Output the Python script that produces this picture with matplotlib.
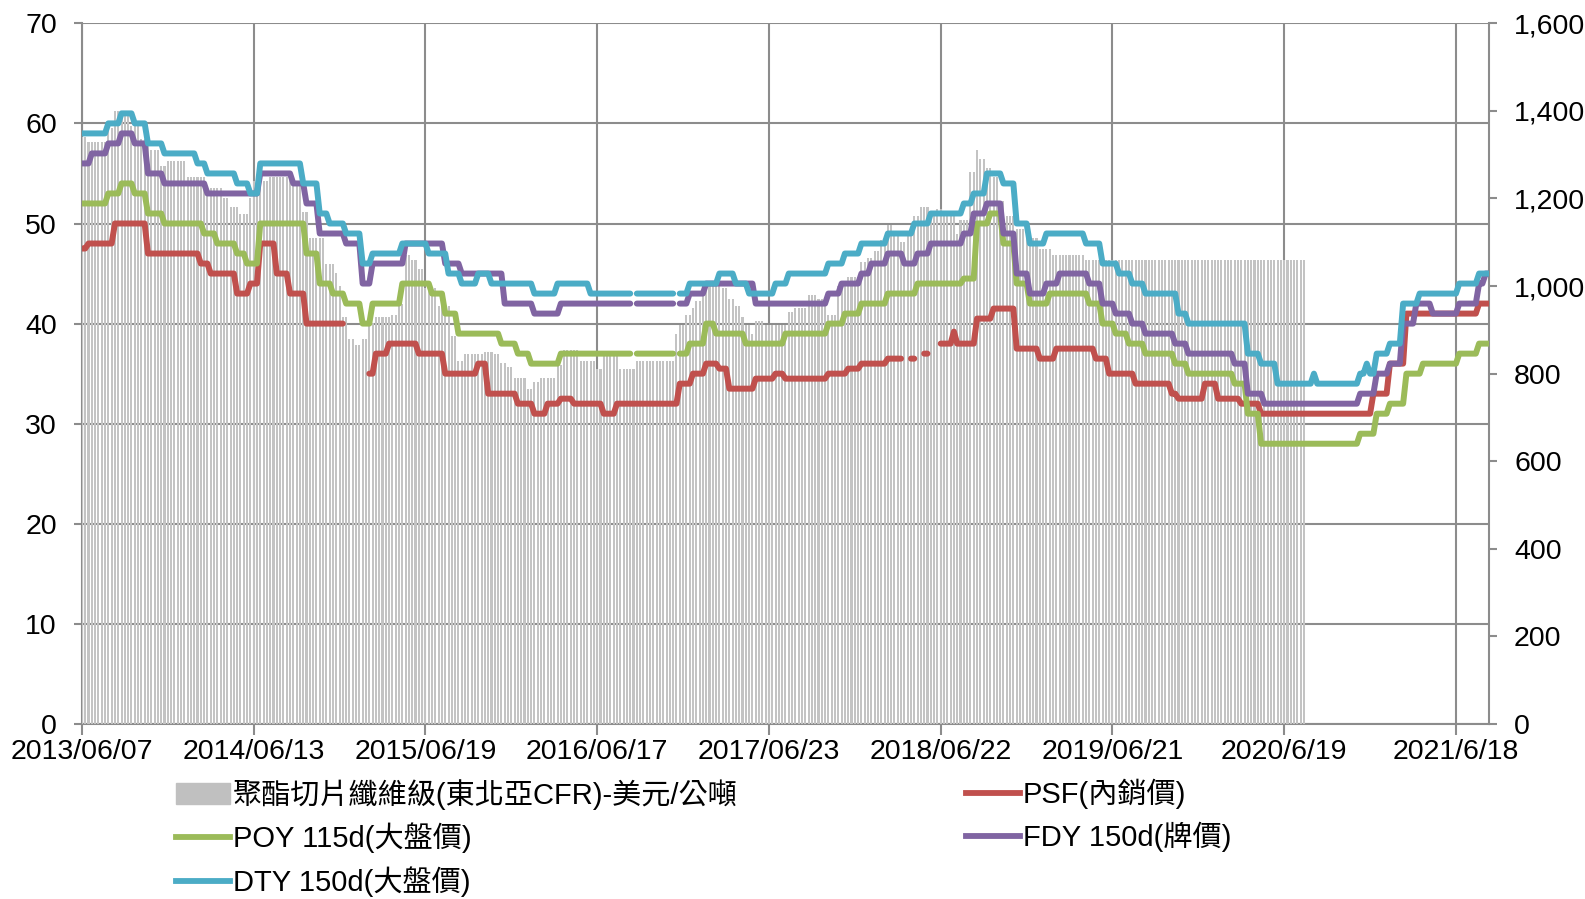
import matplotlib
matplotlib.use('Agg')
import matplotlib.pyplot as plt
import numpy as np
from matplotlib.lines import Line2D
from matplotlib.patches import Patch

plt.rcParams['font.family'] = ['Liberation Sans', 'Noto Sans CJK TC']
plt.rcParams['font.size'] = 20.5

N_WEEKS = 427
N_BARS = 371

tick_idx = [0, 52, 104, 156, 208, 260, 312, 364, 416]
tick_labels = ['2013/06/07', '2014/06/13', '2015/06/19', '2016/06/17', '2017/06/23',
               '2018/06/22', '2019/06/21', '2020/6/19', '2021/6/18']

# weekly series stored as (first week, value) change points
chip_start = [0, 2, 8, 10, 15, 18, 21, 24, 26, 32, 38, 43, 45, 48, 51, 52, 57, 64, 67, 69,
              74, 77, 78, 79, 81, 83, 85, 87, 89, 94, 96, 98, 100, 102, 104, 108, 112, 114,
              116, 122, 125, 127, 129, 131, 135, 137, 139, 144, 146, 151, 156, 158, 163,
              168, 180, 181, 183, 185, 186, 188, 194, 196, 198, 200, 201, 203, 204, 207,
              214, 216, 220, 223, 226, 229, 232, 236, 238, 240, 242, 244, 246, 248, 250,
              252, 254, 257, 259, 261, 265, 266, 269, 271, 272, 274, 276, 278, 280, 283,
              286, 290, 294, 304]
chip_val = [1340, 1330, 1360, 1400, 1365, 1335, 1310, 1275, 1285, 1250, 1225, 1200, 1180,
            1165, 1200, 1240, 1250, 1235, 1170, 1110, 1050, 1030, 1000, 930, 880, 865, 880,
            915, 930, 935, 960, 1070, 1060, 1040, 995, 955, 885, 830, 845, 850, 845, 825,
            815, 790, 765, 780, 790, 820, 855, 830, 810, 840, 810, 830, 890, 910, 935, 950,
            965, 1000, 995, 970, 955, 930, 910, 890, 920, 910, 940, 950, 980, 970, 935,
            1000, 1020, 1055, 1065, 1080, 1105, 1140, 1115, 1100, 1125, 1160, 1180, 1170,
            1175, 1160, 1120, 1150, 1260, 1310, 1290, 1270, 1250, 1195, 1160, 1130, 1110,
            1085, 1070, 1060]

psf_start = [0, 2, 10, 20, 36, 39, 47, 51, 54, 59, 63, 68, 80, 87, 89, 93, 102, 110, 120,
             123, 132, 137, 141, 145, 149, 158, 162, 181, 185, 189, 193, 196, 204, 210, 213,
             226, 232, 236, 244, 249, 251, 253, 255, 257, 260, 264, 265, 271, 276, 283, 290,
             295, 307, 311, 319, 330, 332, 340, 344, 351, 357, 391, 396, 401, 423]
psf_val = [47.5, 48, 50, 47, 46, 45, 43, 44, 48, 45, 43, 40, np.nan, 35, 37, 38, 37, 35, 36,
           33, 32, 31, 32, 32.5, 32, 31, 32, 34, 35, 36, 35.5, 33.5, 34.5, 35, 34.5, 35, 35.5,
           36, 36.5, np.nan, 36.5, np.nan, 37, np.nan, 38, 39.2, 38, 40.5, 41.5, 37.5, 36.5,
           37.5, 36.5, 35, 34, 33, 32.5, 34, 32.5, 32, 31, 33, 36, 41, 42]

poy_start = [0, 8, 12, 16, 20, 25, 37, 41, 47, 50, 54, 68, 72, 76, 80, 85, 88, 97, 106, 110,
             114, 127, 132, 136, 145, 167, 168, 180, 181, 184, 189, 192, 201, 213, 226, 231,
             236, 244, 253, 267, 271, 275, 279, 283, 287, 293, 305, 309, 313, 317, 322, 331,
             335, 349, 353, 357, 387, 392, 396, 401, 406, 417, 423]
poy_val = [52, 53, 54, 53, 51, 50, 49, 48, 47, 46, 50, 47, 44, 43, 42, 40, 42, 44, 43, 41,
           39, 38, 37, 36, 37, np.nan, 37, np.nan, 37, 38, 40, 39, 38, 39, 40, 41, 42, 43, 44,
           44.5, 50, 51, 48, 44, 42, 43, 42, 40, 39, 38, 37, 36, 35, 34, 31, 28, 29, 31, 32,
           35, 36, 37, 38]

fdy_start = [0, 3, 8, 12, 16, 20, 25, 38, 54, 64, 68, 72, 80, 85, 88, 98, 110, 115, 128, 137,
             145, 167, 168, 180, 181, 184, 189, 204, 226, 230, 236, 239, 244, 249, 253, 257,
             267, 270, 274, 279, 283, 287, 292, 296, 305, 309, 313, 318, 322, 331, 335, 349,
             353, 358, 387, 392, 396, 400, 404, 409, 417, 423, 425]
fdy_val = [56, 57, 58, 59, 58, 55, 54, 53, 55, 54, 52, 49, 48, 44, 46, 48, 46, 45, 42, 41, 42,
           np.nan, 42, np.nan, 42, 43, 44, 42, 43, 44, 45, 46, 47, 46, 47, 48, 49, 51, 52, 49,
           45, 43, 44, 45, 44, 42, 41, 40, 39, 38, 37, 36, 33, 32, 33, 35, 36, 40, 42, 41, 42,
           44, 45]

dty_start = [0, 8, 12, 16, 20, 25, 35, 38, 47, 51, 54, 67, 72, 75, 80, 85, 88, 97, 105, 111,
             115, 120, 124, 137, 144, 154, 167, 168, 180, 181, 184, 193, 198, 202, 210, 214,
             226, 231, 236, 244, 252, 257, 267, 270, 274, 279, 283, 287, 292, 304, 309, 314,
             318, 322, 332, 335, 353, 357, 362, 373, 374, 387, 389, 390, 392, 396, 400, 405,
             417, 423]
dty_val = [59, 60, 61, 60, 58, 57, 56, 55, 54, 53, 56, 54, 51, 50, 49, 46, 47, 48, 47, 45, 44,
           45, 44, 43, 44, 43, np.nan, 43, np.nan, 43, 44, 45, 44, 43, 44, 45, 46, 47, 48, 49,
           50, 51, 52, 53, 55, 54, 50, 48, 49, 48, 46, 45, 44, 43, 41, 40, 37, 36, 34, 35, 34,
           35, 36, 35, 37, 38, 42, 43, 44, 45]


def expand(starts, vals, n):
    out = np.full(n, np.nan)
    for k in range(len(starts)):
        end = starts[k + 1] if k + 1 < len(starts) else n
        out[starts[k]:end] = vals[k]
    return out


def main():
    weeks = np.arange(N_WEEKS)
    chip = expand(chip_start, chip_val, N_BARS)
    psf = expand(psf_start, psf_val, N_WEEKS)
    poy = expand(poy_start, poy_val, N_WEEKS)
    fdy = expand(fdy_start, fdy_val, N_WEEKS)
    dty = expand(dty_start, dty_val, N_WEEKS)

    fig = plt.figure(figsize=(15.85, 8.99), dpi=100)
    rect = [81.9 / 1585, (899 - 724) / 899, (1489 - 81.9) / 1585, (724 - 23.3) / 899]
    ax = fig.add_axes(rect)
    grid_c = '#8c8c8c'

    # left axis + grid
    ax.set_xlim(0, N_WEEKS - 1)
    ax.set_ylim(0, 70)
    ax.set_yticks(np.arange(0, 71, 10))
    ax.set_xticks(tick_idx)
    ax.set_xticklabels(tick_labels)
    ax.grid(True, color=grid_c, lw=1.5)
    for s in ['top', 'right']:
        ax.spines[s].set_visible(False)
    for s in ['left', 'bottom']:
        ax.spines[s].set_color(grid_c)
        ax.spines[s].set_linewidth(1.5)
    ax.tick_params(axis='y', length=6, width=1.5, color=grid_c, pad=12)
    ax.tick_params(axis='x', length=8, width=1.5, color=grid_c, pad=3)

    # bars on right axis
    axb = ax.twinx()
    axb.bar(np.arange(N_BARS), chip, width=0.62, color='#c3c3c3', linewidth=0)
    axb.set_ylim(0, 1600)
    axb.set_yticks(np.arange(0, 1601, 200))
    axb.yaxis.set_major_formatter(lambda v, p: f'{v:,.0f}')
    axb.tick_params(axis='y', length=6, width=1.5, color=grid_c, pad=12)
    for s in ['top', 'left', 'bottom']:
        axb.spines[s].set_visible(False)
    axb.spines['right'].set_color(grid_c)
    axb.spines['right'].set_linewidth(1.5)

    # lines on top
    axl = ax.twinx()
    axl.set_ylim(0, 70)
    axl.axis('off')
    kw = dict(lw=4.3, solid_capstyle='round', solid_joinstyle='round')
    axl.plot(weeks, psf, color='#c0504d', **kw)
    axl.plot(weeks, poy, color='#9bbb59', **kw)
    axl.plot(weeks, fdy, color='#8064a2', **kw)
    axl.plot(weeks, dty, color='#4bacc6', **kw)
    axl.set_xlim(0, N_WEEKS - 1)

    lkw = dict(frameon=False, fontsize=21, handlelength=1.85, handletextpad=0.1,
               labelspacing=0.44, borderpad=0, borderaxespad=0, loc='upper left')
    h1 = [Patch(color='#c0c0c0'),
          Line2D([], [], color='#9bbb59', lw=4.2),
          Line2D([], [], color='#4bacc6', lw=4.2)]
    l1 = ['聚酯切片纖維級(東北亞CFR)-美元/公噸', 'POY 115d(大盤價)', 'DTY 150d(大盤價)']
    fig.legend(h1, l1, bbox_to_anchor=(176 / 1585, 1 - 779 / 899), **lkw)
    h2 = [Line2D([], [], color='#c0504d', lw=4.2),
          Line2D([], [], color='#8064a2', lw=4.2)]
    l2 = ['PSF(內銷價)', 'FDY 150d(牌價)']
    fig.legend(h2, l2, bbox_to_anchor=(966 / 1585, 1 - 779 / 899), **lkw)

    fig.savefig('out.png', dpi=100)


if __name__ == '__main__':
    main()
